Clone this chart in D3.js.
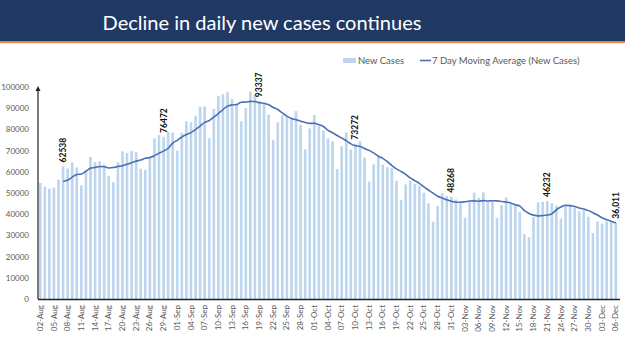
<!DOCTYPE html>
<html>
<head>
<meta charset="utf-8">
<script src="https://cdn.jsdelivr.net/npm/d3@7"></script>
<style>
  html, body { margin: 0; padding: 0; background: #fff; }
  svg text { font-family: Lato, "Open Sans", sans-serif; }
</style>
</head>
<body>
<div id="chart"></div>
<script>
// chart size
const width = 625,
  height = 351,
  margin = { top: 87, bottom: 52, left: 38, right: 5 };

// data: daily new cases 02-Aug .. 06-Dec
const startDay = new Date(2020, 7, 2),
  endDay = new Date(2020, 11, 7);

const newCases = [
  54735, 52972, 52050, 52509, 56282, 62538, 61537, 64399, 62064, 53601,
  60963, 66999, 64553, 65002, 63490, 57982, 55079, 64531, 69652, 68898,
  69878, 69239, 61408, 60975, 67151, 75760, 77266, 76472, 78761, 78512,
  69921, 78357, 83883, 83341, 86432, 90632, 90802, 75809, 89706, 95735,
  96551, 97570, 94372, 92071, 83809, 90123, 97894, 96424, 93337, 92605,
  86961, 75083, 83347, 86508, 86052, 85362, 88600, 82170, 70589, 80472,
  86821, 81484, 79476, 75829, 74442, 61267, 72049, 78524, 70496, 73272,
  74383, 66732, 55342, 63509, 67708, 63371, 62212, 61871, 55722, 46790,
  54044, 55839, 54366, 53370, 50129, 45148, 36470, 43893, 49881, 48648,
  48268, 46963, 45231, 38310, 46253, 50210, 47638, 50356, 45674, 45903,
  38073, 44281, 47905, 44878, 44684, 41100, 30548, 29163, 38617, 45576,
  45882, 46232, 45209, 44059, 37975, 44376, 44489, 43082, 41322, 41810,
  38772, 31118, 36604, 35551, 36594, 36652, 36011
];

// 7 day moving average, starts on 07-Aug
const movingAvg = [
  null, null, null, null, null,
  55458, 56089, 57470, 58768, 58990, 60198, 61729, 62017, 62512, 62382,
  61799, 62010, 62519, 62898, 63519, 64216, 65037, 65526, 66369, 66743,
  67616, 68811, 69753, 71113, 73557,
  74835, 76436, 77596, 78464, 79887, 81583, 83338, 84179, 85801, 87494,
  89381, 90972, 91506, 91688, 92831, 92890, 93199, 93180, 92576, 92323,
  91593, 90347, 89379, 87752, 86270, 85131, 84559, 83875, 83233, 82822,
  82867, 82214, 81373, 79549, 78445, 77113, 75910, 74724, 73155, 72268,
  72062, 70960, 70114, 68894, 67349, 66331, 64751, 62964, 61391, 60169,
  58817, 57121, 55835, 54572, 52894, 51384, 49909, 48459, 47608, 46791,
  46062,
  45610, 45622, 45885, 46222, 46269, 46125, 46423, 46239, 46335, 46301,
  46019, 45690, 45296, 44485, 43832, 41638, 40366, 39556, 39224, 39367,
  39588, 40175, 42105, 43364, 44187, 44032, 43632, 42930, 42445, 41689,
  40710, 39600, 38323, 37396, 36729, 35900
];

// annotated bars
const labelDays = ["07-Aug", "29-Aug", "19-Sep", "10-Oct", "31-Oct", "21-Nov", "06-Dec"];
const labelTexts = ["62538", "76472", "93337", "73272", "48268", "46232", "36,011"];

const yTicks = [0, 10000, 20000, 30000, 40000, 50000, 60000, 70000, 80000, 90000, 100000];

const fmt = d3.timeFormat("%d-%b");
const days = d3.timeDay.range(startDay, endDay).map(fmt);
const rows = days.map((d, i) => ({ day: d, cases: newCases[i], avg: movingAvg[i] }));

const svg = d3.select("#chart")
  .append("svg")
  .attr("width", width)
  .attr("height", height);

// title band
svg.append("rect")
  .attr("x", 0).attr("y", 0)
  .attr("width", width).attr("height", 41.5)
  .attr("fill", "#203864");
svg.append("rect")
  .attr("x", 0).attr("y", 41.5)
  .attr("width", width).attr("height", 1.6)
  .attr("fill", "#E8834E");

const title = svg.append("text")
  .attr("x", 262).attr("y", 30)
  .attr("text-anchor", "middle")
  .attr("fill", "#fff")
  .style("font-size", "21px")
  .text("Decline in daily new cases continues");
// fit title width to the reference
const tw = title.node().getComputedTextLength();
title.style("font-size", (21 * 319 / tw) + "px");

// scales
const x = d3.scaleBand()
  .domain(days)
  .range([margin.left, width - margin.right - 2])
  .paddingInner(0.42)
  .paddingOuter(0.2);

const y = d3.scaleLinear()
  .domain([0, 100000])
  .range([height - margin.bottom, margin.top]);

// bars
svg.append("g")
  .selectAll("rect")
  .data(rows)
  .join("rect")
  .attr("x", d => x(d.day))
  .attr("y", d => y(d.cases))
  .attr("width", x.bandwidth())
  .attr("height", d => y(0) - y(d.cases))
  .attr("fill", "#BDD5EE");

// moving average line
const line = d3.line()
  .defined(d => d.avg != null)
  .x(d => x(d.day) + x.bandwidth() / 2)
  .y(d => y(d.avg))
  .curve(d3.curveMonotoneX);

svg.append("path")
  .datum(rows)
  .attr("fill", "none")
  .attr("stroke", "#4A6FB5")
  .attr("stroke-width", 1.6)
  .attr("d", line);

// y axis
const yAxis = svg.append("g")
  .attr("transform", `translate(${margin.left},0)`)
  .call(d3.axisLeft(y).tickValues(yTicks).tickSize(0).tickPadding(9).tickFormat(d3.format("d")));
yAxis.select(".domain").remove();
yAxis.selectAll("text").attr("fill", "#595959").style("font-size", "8px");

svg.append("line")
  .attr("x1", margin.left).attr("x2", margin.left)
  .attr("y1", y(0)).attr("y2", y(100000) + 1)
  .attr("stroke", "#222").attr("stroke-width", 1.2);
svg.append("path")
  .attr("d", `M${margin.left - 2.5},${y(100000) + 4} L${margin.left},${y(100000) - 1} L${margin.left + 2.5},${y(100000) + 4} Z`)
  .attr("fill", "#222");

// x axis
const xAxis = svg.append("g")
  .attr("transform", `translate(0,${y(0)})`)
  .call(d3.axisBottom(x).tickValues(days.filter((d, i) => i % 3 === 0)).tickSize(0));
xAxis.select(".domain")
  .attr("d", `M${margin.left},0.5H${width - margin.right}`)
  .attr("stroke", "#222").attr("stroke-width", 1.4);
xAxis.selectAll("text")
  .attr("fill", "#595959")
  .style("font-size", "8px")
  .attr("text-anchor", "end")
  .attr("transform", "rotate(-90)")
  .attr("x", -6)
  .attr("y", 0)
  .attr("dy", "0.32em");

// data labels
svg.append("g")
  .selectAll("text")
  .data(labelDays)
  .join("text")
  .attr("transform", (d, i) => {
    const r = rows.find(r => r.day === d);
    return `translate(${x(d) + x.bandwidth() / 2},${y(r.cases) - 4}) rotate(-90)`;
  })
  .attr("dy", "0.35em")
  .attr("fill", "#111")
  .style("font-size", "8.5px")
  .style("font-weight", "bold")
  .text((d, i) => labelTexts[i]);

// legend
const legend = svg.append("g").style("font-size", "9.5px");
legend.append("rect")
  .attr("x", 343).attr("y", 58)
  .attr("width", 13).attr("height", 5)
  .attr("fill", "#BDD5EE");
legend.append("text")
  .attr("x", 358).attr("y", 64)
  .attr("fill", "#595959")
  .text("New Cases");
legend.append("line")
  .attr("x1", 420).attr("x2", 431)
  .attr("y1", 60.5).attr("y2", 60.5)
  .attr("stroke", "#4A6FB5").attr("stroke-width", 1.6);
legend.append("text")
  .attr("x", 432).attr("y", 64)
  .attr("fill", "#595959")
  .text("7 Day Moving Average (New Cases)");
</script>
</body>
</html>
